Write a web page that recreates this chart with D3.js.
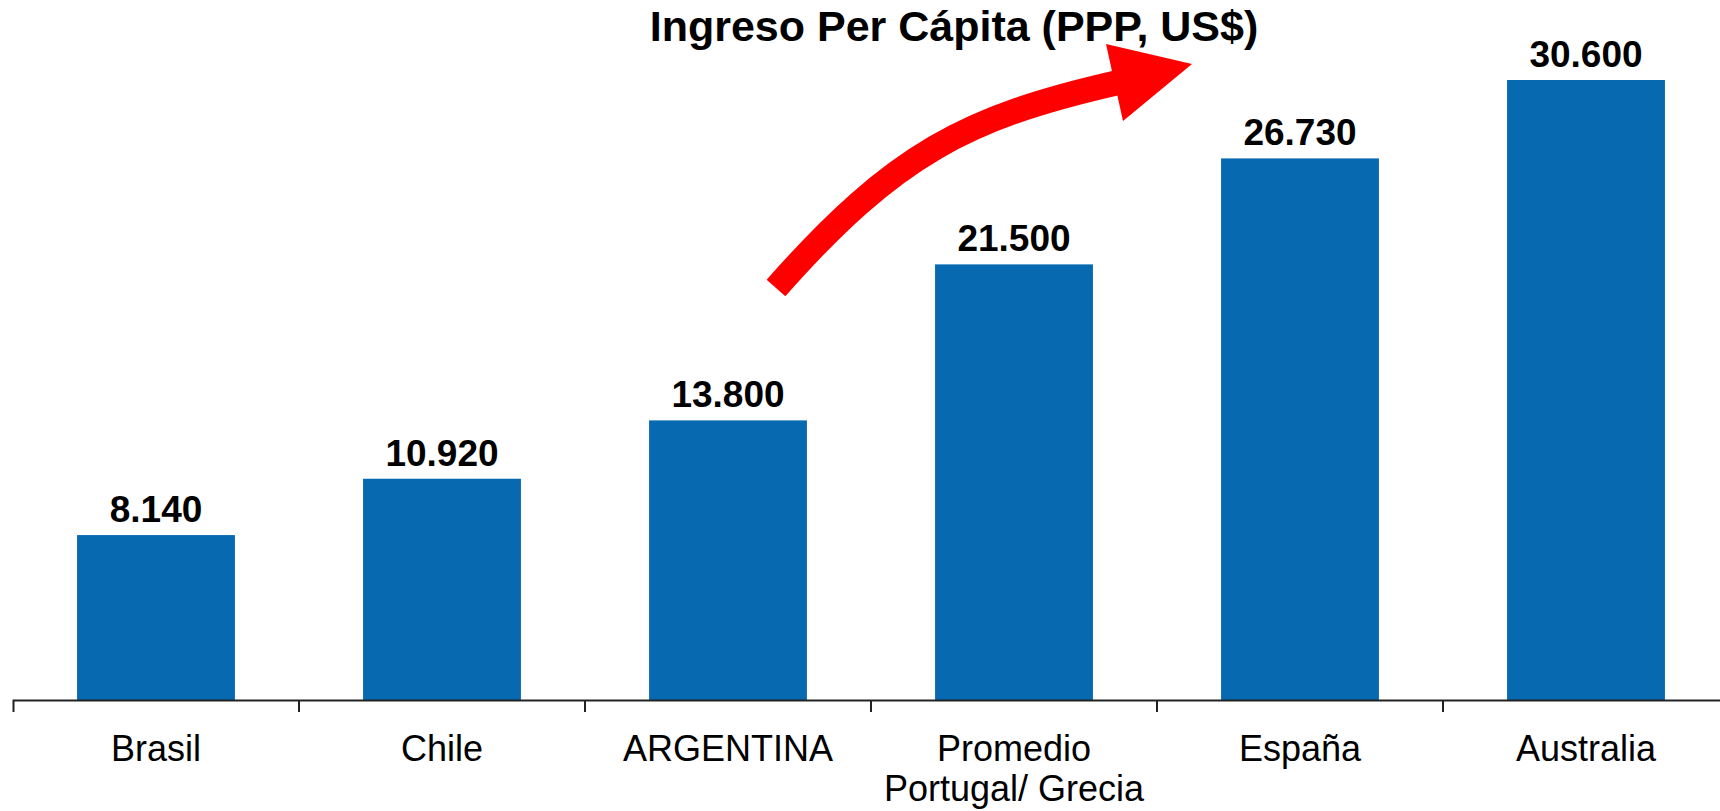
<!DOCTYPE html>
<html>
<head>
<meta charset="utf-8">
<script src="https://cdn.jsdelivr.net/npm/d3@7"></script>
<style>
  body { margin: 0; background: #fff; }
  text { font-family: "Liberation Sans", Arial, sans-serif; }
</style>
</head>
<body>
<div id="chart"></div>
<script>
// DATA
const countries = ["Brasil", "Chile", "ARGENTINA", "Promedio\nPortugal/ Grecia", "España", "Australia"];
const incomes = [8140, 10920, 13800, 21500, 26730, 30600];
const valueLabels = ["8.140", "10.920", "13.800", "21.500", "26.730", "30.600"];
const chartTitle = "Ingreso Per Cápita (PPP, US$)";

const data = countries.map((c, i) => ({ country: c, value: incomes[i], label: valueLabels[i] }));

// CONSTANTS
const width = 1720, height = 811;
const margin = { top: 80, right: 0, bottom: 111, left: 13 };
const baseY = height - margin.bottom; // 700

const svg = d3.select("#chart")
  .append("svg")
  .attr("width", width)
  .attr("height", height);

// SCALES
const xScale = d3.scaleBand()
  .domain(countries)
  .range([margin.left, margin.left + 6 * 286])
  .paddingInner(0.448)
  .paddingOuter(0.224);

const yScale = d3.scaleLinear()
  .domain([0, d3.max(incomes)])
  .range([baseY, margin.top]);

// BARS
svg.selectAll("rect.bar")
  .data(data)
  .join("rect")
  .attr("class", "bar")
  .attr("x", d => xScale(d.country))
  .attr("y", d => yScale(d.value))
  .attr("width", xScale.bandwidth())
  .attr("height", d => baseY - yScale(d.value))
  .attr("fill", "#076ab0");

// VALUE LABELS
svg.selectAll("text.val")
  .data(data)
  .join("text")
  .attr("class", "val")
  .attr("x", d => xScale(d.country) + xScale.bandwidth() / 2)
  .attr("y", d => yScale(d.value) - 13)
  .attr("text-anchor", "middle")
  .style("font-size", "37px")
  .style("font-weight", "bold")
  .text(d => d.label);

// X AXIS
const xAxis = d3.axisBottom(xScale).tickSizeInner(0).tickSizeOuter(12);
const xAxisGroup = svg.append("g")
  .attr("transform", `translate(0, ${baseY})`)
  .call(xAxis);

xAxisGroup.select(".domain").attr("stroke", "#222").attr("stroke-width", 2);

xAxisGroup.selectAll(".tick text")
  .attr("y", 61)
  .attr("dy", 0)
  .attr("fill", "#000")
  .style("font-size", "36px")
  .each(function (d) {
    const lines = d.split("\n");
    const t = d3.select(this).text(null);
    lines.forEach((l, i) => {
      t.append("tspan").attr("x", 0).attr("dy", i === 0 ? 0 : 40).text(l);
    });
  });

// ticks between categories
const step = xScale.step();
const bounds = countries.slice(1).map(c => xScale(c) - step * xScale.paddingInner() / 2);
xAxisGroup.selectAll("line.sep")
  .data(bounds)
  .join("line")
  .attr("class", "sep")
  .attr("x1", d => d).attr("x2", d => d)
  .attr("y1", 0).attr("y2", 12)
  .attr("stroke", "#222")
  .attr("stroke-width", 2);

// TITLE
svg.append("text")
  .attr("x", 954)
  .attr("y", 41)
  .attr("text-anchor", "middle")
  .style("font-size", "43px")
  .style("font-weight", "bold")
  .text(chartTitle);

// RED ARROW (annotation)
const arrow = svg.append("g");
arrow.append("path")
  .attr("d", "M776,288 C895,153 968,117 1116,83")
  .attr("fill", "none")
  .attr("stroke", "#ff0000")
  .attr("stroke-width", 25);
arrow.append("path")
  .attr("d", "M1106,44 L1192,64 L1123,121 Z")
  .attr("fill", "#ff0000");
</script>
</body>
</html>
